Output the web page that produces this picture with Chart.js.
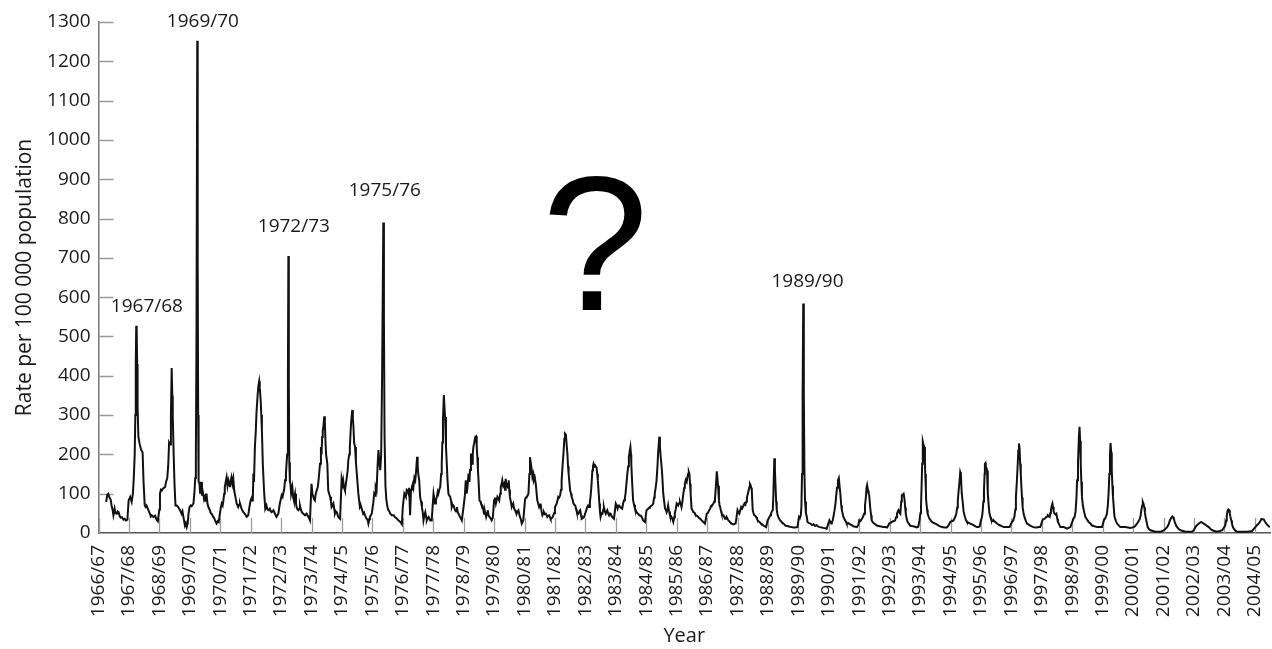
<!DOCTYPE html>
<html>
<head>
<meta charset="utf-8">
<script src="https://cdn.jsdelivr.net/npm/chart.js@4.4.1/dist/chart.umd.min.js"></script>
<style>
  html, body { margin: 0; padding: 0; background: #ffffff; }
  #wrap { width: 1272px; height: 649px; }
</style>
</head>
<body>
<div id="wrap"><canvas id="chart" width="1272" height="649"></canvas></div>
<script>
// Season labels for the x axis (one per winter season)
const seasonLabels = [
  '1966/67','1967/68','1968/69','1969/70','1970/71','1971/72','1972/73','1973/74',
  '1974/75','1975/76','1976/77','1977/78','1978/79','1979/80','1980/81','1981/82',
  '1982/83','1983/84','1984/85','1985/86','1986/87','1987/88','1988/89','1989/90',
  '1990/91','1991/92','1992/93','1993/94','1994/95','1995/96','1996/97','1997/98',
  '1998/99','1999/00','2000/01','2001/02','2002/03','2003/04','2004/05'
];

// Weekly rate per 100 000 population: [years since start of 1966/67 season, rate]
const rates1960s = [
  [0.25,79],[0.29,98],[0.32,100],[0.36,90],[0.40,85],[0.43,70],[0.46,60],[0.49,45],[0.53,62],[0.56,50],
  [0.60,49],[0.63,55],[0.66,53],[0.70,42],[0.73,39],[0.77,40],[0.82,34],[0.86,36],[0.90,32],[0.95,34],
  [0.99,83],[1.04,92],[1.09,79],[1.13,100],[1.16,140],[1.19,200],[1.21,300],[1.225,430],[1.24,527],[1.255,515],
  [1.27,430],[1.285,320],[1.31,245],[1.35,228],[1.40,212],[1.45,205],[1.48,130],[1.52,70],[1.55,66],[1.58,70],
  [1.64,58],[1.69,49],[1.72,42],[1.75,45],[1.80,41],[1.86,44],[1.91,34],[1.95,30],
  [2.0,60],[2.02,100],[2.05,110],[2.08,108],[2.11,112],[2.15,115],[2.19,117],[2.22,130],[2.26,140],[2.29,170],
  [2.32,230],[2.35,225],[2.38,300],[2.405,420],[2.425,350],[2.44,300],[2.47,200],[2.50,120],[2.53,70],[2.57,70],
  [2.62,66],[2.68,58],[2.73,49],[2.76,55],[2.79,41],[2.84,19],[2.87,25],[2.90,15],[2.93,24],[2.96,50],
  [2.99,66],[3.03,70],[3.06,68],[3.09,72],[3.12,75],[3.15,100],[3.18,140],[3.20,200],[3.22,500],[3.245,1252],
  [3.26,700],[3.275,300],[3.29,130],[3.32,125],[3.34,100],[3.37,130],[3.40,95],[3.42,108],[3.44,100],[3.47,85],
  [3.50,92],[3.53,80],[3.55,100],[3.58,75],[3.61,66],[3.66,58],[3.69,50],[3.72,49],[3.77,41],[3.80,38],
  [3.83,32],[3.88,24],[3.92,30],[3.95,28]
];

const rates1970s = [
  [3.99,49],[4.02,65],[4.05,75],[4.08,70],[4.10,80],[4.13,100],[4.15,117],[4.18,130],[4.21,142],[4.24,120],
  [4.27,134],[4.30,125],[4.32,117],[4.35,135],[4.37,142],[4.40,125],[4.43,138],[4.46,108],[4.50,92],[4.54,75],
  [4.59,66],[4.62,72],[4.65,75],[4.70,62],[4.76,53],[4.81,49],[4.84,45],[4.87,41],[4.92,45],[4.96,66],
  [5.0,83],[5.05,92],[5.07,80],[5.09,151],[5.11,130],[5.14,219],[5.17,260],[5.19,303],[5.22,340],[5.25,372],
  [5.28,386],[5.30,370],[5.33,337],[5.35,300],[5.37,261],[5.40,176],[5.44,108],[5.48,62],[5.52,70],[5.55,60],
  [5.58,58],[5.63,62],[5.66,55],[5.69,53],[5.75,58],[5.80,49],[5.85,41],[5.91,49],[5.96,75],
  [6.02,96],[6.05,92],[6.07,100],[6.10,110],[6.13,134],[6.16,150],[6.18,176],[6.20,200],[6.225,400],[6.24,705],
  [6.255,380],[6.27,180],[6.29,130],[6.31,125],[6.33,100],[6.37,117],[6.40,90],[6.42,83],[6.46,100],[6.49,75],
  [6.51,66],[6.54,60],[6.57,58],[6.60,62],[6.62,70],[6.65,60],[6.68,53],[6.73,49],[6.79,45],[6.84,49],
  [6.90,41],[6.95,32],
  [7.0,125],[7.03,100],[7.06,92],[7.09,85],[7.11,83],[7.14,100],[7.17,108],[7.20,115],[7.22,125],[7.25,150],
  [7.28,176],[7.31,219],[7.33,200],[7.35,244],[7.37,260],[7.39,270],[7.42,297],[7.44,280],[7.46,230],[7.48,200],
  [7.52,176],[7.55,108],[7.58,100],[7.61,92],[7.64,80],[7.66,66],[7.69,70],[7.72,75],[7.75,60],[7.77,49],
  [7.80,55],[7.83,53],[7.88,41],[7.94,36],
  [7.99,138],[8.02,125],[8.04,134],[8.07,115],[8.10,108],[8.13,125],[8.16,142],[8.19,160],[8.21,185],[8.24,200],
  [8.26,219],[8.28,250],[8.30,280],[8.34,313],[8.36,290],[8.38,269],[8.40,230],[8.43,219],[8.46,180],[8.48,159],
  [8.51,130],[8.54,100],[8.57,80],[8.59,66],[8.62,70],[8.65,62],[8.70,49],[8.73,52],[8.76,45],[8.81,36],
  [8.84,35],[8.87,24],[8.90,35],[8.92,41],[8.98,49],
  [9.03,76],[9.06,100],[9.09,95],[9.11,117],[9.14,110],[9.17,168],[9.20,211],[9.23,180],[9.26,160],[9.29,200],
  [9.32,400],[9.36,790],[9.38,550],[9.40,250],[9.43,120],[9.46,84],[9.50,65],[9.53,58],[9.56,55],[9.59,49],
  [9.64,45],[9.70,45],[9.75,40],[9.81,36],[9.86,32],[9.92,28],[9.97,22],
  [10.0,66],[10.02,80],[10.05,100],[10.08,95],[10.10,92],[10.13,110],[10.16,108],[10.19,100],[10.21,115],[10.24,45],
  [10.27,110],[10.30,117],[10.33,125],[10.35,117],[10.38,140],[10.41,134],[10.44,160],[10.47,194],[10.49,170],[10.51,150],
  [10.54,134],[10.57,92],[10.60,80],[10.63,66],[10.66,50],[10.68,32],[10.71,45],[10.74,53],[10.77,40],[10.79,32],
  [10.82,38],[10.85,41],[10.90,32],[10.95,32],
  [11.01,100],[11.04,85],[11.06,75],[11.09,85],[11.12,92],[11.15,105],[11.17,100],[11.20,110],[11.23,117],[11.26,150],
  [11.28,176],[11.30,230],[11.32,286],[11.35,351],[11.37,320],[11.39,295],[11.42,219],[11.45,170],[11.47,134],[11.50,100],
  [11.53,95],[11.56,92],[11.59,80],[11.61,66],[11.64,72],[11.67,70],[11.70,62],[11.72,58],[11.75,55],[11.78,66],
  [11.80,55],[11.83,49],[11.88,41],[11.94,32],
  [12.01,75],[12.04,95],[12.07,134],[12.10,100],[12.13,120],[12.16,151],[12.19,130],[12.21,160],[12.24,202],[12.26,180],
  [12.28,176],[12.30,200],[12.32,219],[12.35,230],[12.38,244],[12.41,246],[12.43,220],[12.45,193],[12.47,160],[12.49,134],
  [12.52,83],[12.55,80],[12.57,75],[12.60,72],[12.63,66],[12.67,49],[12.70,55],[12.74,41],[12.77,50],[12.79,58],
  [12.82,45],[12.85,41],[12.88,38],[12.92,32],[12.96,40],
  [13.0,83],[13.03,90],[13.06,75],[13.09,85],[13.11,92],[13.14,88],[13.17,83],[13.20,100],[13.22,117],[13.25,125],
  [13.27,134],[13.30,120],[13.33,125],[13.36,110],[13.38,138],[13.41,120],[13.44,117],[13.46,125],[13.48,134],[13.50,110],
  [13.52,92],[13.55,80],[13.58,66],[13.61,72],[13.63,75],[13.66,62],[13.69,58],[13.72,52],[13.74,49],[13.77,55],
  [13.80,58],[13.85,41],[13.88,35],[13.91,24],[13.96,32]
];

const rates1980s = [
  [14.02,87],[14.05,90],[14.07,92],[14.10,95],[14.13,100],[14.16,150],[14.18,193],[14.21,176],[14.24,160],[14.26,142],
  [14.29,150],[14.31,134],[14.34,140],[14.37,125],[14.40,100],[14.42,83],[14.45,75],[14.48,66],[14.51,72],[14.53,75],
  [14.56,55],[14.59,45],[14.62,50],[14.64,53],[14.67,48],[14.70,49],[14.73,45],[14.75,41],[14.78,44],[14.81,45],
  [14.84,40],[14.86,36],[14.90,38],[14.93,41],[14.97,50],
  [15.0,66],[15.03,70],[15.06,75],[15.09,85],[15.11,92],[15.14,90],[15.17,96],[15.20,110],[15.22,134],[15.25,170],
  [15.28,202],[15.31,240],[15.33,253],[15.36,250],[15.39,220],[15.41,202],[15.43,170],[15.45,151],[15.48,125],[15.50,108],
  [15.53,100],[15.55,92],[15.58,85],[15.61,75],[15.64,72],[15.67,70],[15.70,60],[15.72,53],[15.75,50],[15.77,49],
  [15.80,55],[15.83,58],[15.86,45],[15.88,36],[15.92,38],[15.96,41],
  [16.01,53],[16.04,60],[16.06,66],[16.09,70],[16.12,66],[16.15,80],[16.17,92],[16.20,120],[16.23,159],[16.25,170],
  [16.27,176],[16.30,170],[16.32,172],[16.35,168],[16.37,166],[16.39,150],[16.41,134],[16.44,100],[16.46,75],[16.48,55],
  [16.50,41],[16.53,50],[16.56,49],[16.59,60],[16.61,66],[16.64,55],[16.67,49],[16.70,55],[16.72,58],[16.75,50],
  [16.78,45],[16.81,50],[16.83,49],[16.86,44],[16.88,41],[16.94,36],
  [17.0,75],[17.03,70],[17.06,62],[17.09,70],[17.11,70],[17.14,66],[17.17,66],[17.21,62],[17.24,75],[17.27,83],
  [17.30,90],[17.32,100],[17.35,125],[17.38,151],[17.41,170],[17.43,193],[17.46,210],[17.48,219],[17.50,200],[17.51,176],
  [17.54,125],[17.57,83],[17.60,72],[17.63,62],[17.66,58],[17.68,53],[17.71,50],[17.74,49],[17.77,45],[17.79,45],
  [17.82,44],[17.85,41],[17.90,32],[17.96,28],
  [18.01,58],[18.04,60],[18.07,62],[18.10,64],[18.12,66],[18.15,68],[18.18,70],[18.21,72],[18.23,75],[18.26,90],
  [18.28,100],[18.31,115],[18.34,134],[18.37,170],[18.39,202],[18.43,245],[18.45,220],[18.48,190],[18.51,165],[18.53,142],
  [18.56,100],[18.59,80],[18.62,62],[18.65,58],[18.67,53],[18.70,60],[18.72,70],[18.75,55],[18.78,45],[18.81,44],
  [18.83,41],[18.86,35],[18.89,28],[18.92,40],[18.94,50],[18.97,60],
  [19.0,75],[19.03,72],[19.05,70],[19.08,76],[19.11,79],[19.14,72],[19.16,66],[19.19,80],[19.22,100],[19.25,115],
  [19.27,125],[19.30,135],[19.33,130],[19.36,145],[19.38,151],[19.40,155],[19.42,150],[19.44,125],[19.46,100],[19.49,62],
  [19.52,58],[19.55,53],[19.58,52],[19.60,49],[19.63,45],[19.66,44],[19.69,42],[19.71,41],[19.74,38],[19.77,36],
  [19.80,34],[19.82,32],[19.85,30],[19.88,28],[19.93,24],
  [19.99,49],[20.02,51],[20.04,53],[20.07,58],[20.10,62],[20.13,68],[20.15,70],[20.18,72],[20.21,75],[20.24,80],
  [20.26,87],[20.29,120],[20.32,157],[20.34,140],[20.36,120],[20.39,83],[20.41,70],[20.43,66],[20.46,55],[20.48,49],
  [20.51,45],[20.54,45],[20.57,40],[20.59,36],[20.62,38],[20.64,41],[20.67,36],[20.70,32],[20.73,30],[20.75,28],
  [20.78,26],[20.81,24],[20.86,22],[20.94,24],
  [21.0,58],[21.03,52],[21.06,49],[21.09,58],[21.12,66],[21.15,62],[21.17,62],[21.20,70],[21.23,75],[21.26,72],
  [21.29,80],[21.31,90],[21.34,100],[21.37,110],[21.39,117],[21.41,125],[21.43,122],[21.45,115],[21.47,108],[21.50,58],
  [21.52,52],[21.55,45],[21.58,44],[21.61,41],[21.64,36],[21.66,32],[21.69,30],[21.72,28],[21.75,26],[21.77,24],
  [21.81,22],[21.85,19],[21.90,17],[21.94,15],
  [21.99,32],[22.02,36],[22.05,41],[22.08,45],[22.10,49],[22.13,55],[22.16,58],[22.18,100],[22.21,190],[22.23,160],
  [22.25,120],[22.27,80],[22.29,58],[22.32,45],[22.34,41],[22.37,36],[22.40,32],[22.43,30],[22.45,28],[22.48,26],
  [22.51,24],[22.54,22],[22.57,19],[22.62,18],[22.67,17],[22.72,16],[22.78,15],[22.84,14],[22.89,14],[22.97,15],
  [23.02,41],[23.05,38],[23.08,45],[23.10,66],[23.12,150],[23.14,350],[23.16,584],[23.18,350],[23.20,150],[23.22,80],
  [23.25,50],[23.28,40],[23.30,28],[23.35,25],[23.40,24],[23.45,20],[23.50,22],[23.55,18],[23.60,20],[23.66,16],
  [23.71,15],[23.77,14],[23.82,13],[23.88,12],[23.93,11]
];

const rates1990s = [
  [24.02,32],[24.05,28],[24.08,24],[24.10,28],[24.13,32],[24.16,45],[24.19,58],[24.22,75],[24.24,92],[24.27,115],
  [24.30,134],[24.33,140],[24.36,115],[24.38,100],[24.41,70],[24.43,58],[24.46,48],[24.48,41],[24.51,36],[24.54,32],
  [24.57,28],[24.59,24],[24.65,25],[24.70,22],[24.76,20],[24.81,17],[24.87,16],[24.92,15],[24.97,20],
  [25.0,32],[25.04,30],[25.09,36],[25.13,42],[25.16,49],[25.19,70],[25.22,92],[25.24,115],[25.26,122],[25.29,108],
  [25.31,100],[25.33,95],[25.36,66],[25.39,45],[25.41,32],[25.45,27],[25.49,24],[25.53,22],[25.58,19],[25.64,18],
  [25.69,17],[25.75,16],[25.80,15],[25.86,15],[25.91,14],[25.95,18],
  [25.98,24],[26.02,26],[26.07,28],[26.12,30],[26.18,32],[26.21,40],[26.24,49],[26.27,55],[26.29,58],[26.32,52],
  [26.35,49],[26.38,80],[26.40,96],[26.43,98],[26.46,100],[26.49,85],[26.51,65],[26.53,49],[26.56,36],[26.59,28],
  [26.63,24],[26.67,19],[26.72,18],[26.78,17],[26.83,16],[26.89,14],[26.94,16],
  [26.98,32],[27.01,50],[27.03,66],[27.05,120],[27.07,176],[27.09,232],[27.11,225],[27.14,219],[27.16,180],[27.17,150],
  [27.19,110],[27.20,83],[27.23,60],[27.25,49],[27.28,42],[27.31,36],[27.35,32],[27.39,28],[27.44,26],[27.50,24],
  [27.55,22],[27.61,19],[27.66,17],[27.72,15],[27.80,14],[27.88,14],[27.94,20],
  [27.99,28],[28.04,30],[28.10,32],[28.15,40],[28.19,49],[28.22,65],[28.24,83],[28.27,110],[28.30,134],[28.32,155],
  [28.34,150],[28.37,100],[28.40,80],[28.43,55],[28.46,45],[28.48,40],[28.51,32],[28.54,28],[28.60,26],[28.65,24],
  [28.71,22],[28.76,20],[28.82,17],[28.87,15],[28.92,15],[28.96,17],
  [29.0,32],[29.03,40],[29.05,49],[29.08,80],[29.10,108],[29.12,150],[29.13,176],[29.15,178],[29.16,170],[29.18,165],
  [29.20,159],[29.22,120],[29.23,100],[29.26,66],[29.28,50],[29.31,41],[29.33,36],[29.36,32],[29.40,30],[29.42,32],
  [29.47,28],[29.53,24],[29.58,21],[29.64,19],[29.70,17],[29.75,15],[29.81,15],[29.86,15],[29.94,15],
  [30.02,28],[30.06,32],[30.10,41],[30.13,60],[30.15,92],[30.18,130],[30.21,176],[30.23,210],[30.25,228],[30.27,215],
  [30.29,176],[30.31,150],[30.33,117],[30.35,90],[30.37,66],[30.40,50],[30.43,41],[30.47,32],[30.51,24],[30.56,22],
  [30.62,19],[30.67,17],[30.73,15],[30.79,14],[30.84,14],[30.90,15],[30.95,15],
  [31.02,32],[31.05,35],[31.08,36],[31.12,38],[31.15,41],[31.18,42],[31.20,45],[31.23,43],[31.26,41],[31.28,50],
  [31.30,58],[31.33,70],[31.35,75],[31.37,66],[31.38,62],[31.40,55],[31.42,49],[31.45,47],[31.48,49],[31.51,36],
  [31.53,28],[31.57,22],[31.61,15],[31.66,15],[31.72,15],[31.78,13],[31.83,11],[31.88,13],[31.94,15],
  [32.02,32],[32.05,38],[32.08,41],[32.11,55],[32.14,90],[32.16,134],[32.19,180],[32.22,245],[32.24,270],[32.26,235],
  [32.28,176],[32.30,130],[32.32,92],[32.35,70],[32.38,58],[32.41,48],[32.43,41],[32.48,35],[32.54,28],[32.60,24],
  [32.65,19],[32.73,17],[32.82,15],[32.90,15],[32.98,15],
  [33.04,32],[33.09,38],[33.14,49],[33.17,70],[33.20,108],[33.22,150],[33.24,200],[33.26,229],[33.28,205],[33.30,160],
  [33.32,120],[33.34,92],[33.37,60],[33.39,41],[33.43,32],[33.47,24],[33.52,20],[33.58,15],[33.66,15],[33.75,15],
  [33.83,14],[33.91,13]
];

const rates2000s = [
  [34.02,15],[34.07,18],[34.13,24],[34.18,30],[34.22,36],[34.25,45],[34.27,58],[34.30,70],[34.32,79],[34.34,75],
  [34.37,65],[34.39,52],[34.41,41],[34.44,30],[34.48,15],[34.52,10],[34.57,7],[34.65,5],[34.73,3],[34.82,3],
  [34.90,3],[34.96,5],
  [35.01,7],[35.06,10],[35.12,15],[35.17,22],[35.21,32],[35.25,38],[35.29,42],[35.32,40],[35.34,36],[35.37,28],
  [35.39,24],[35.42,18],[35.45,15],[35.50,10],[35.56,7],[35.64,5],[35.72,3],[35.83,3],[35.94,3],
  [36.0,8],[36.05,15],[36.10,20],[36.16,24],[36.20,26],[36.24,28],[36.28,26],[36.32,24],[36.36,22],[36.41,19],
  [36.45,17],[36.49,15],[36.55,10],[36.60,7],[36.68,5],[36.76,3],[36.85,5],[36.93,7],
  [37.0,15],[37.03,20],[37.06,32],[37.08,45],[37.11,58],[37.13,60],[37.16,58],[37.18,50],[37.20,41],[37.23,32],
  [37.25,24],[37.28,15],[37.31,11],[37.36,6],[37.42,3],[37.50,3],[37.58,3],[37.66,3],[37.74,3],[37.83,4],
  [37.91,5],[37.96,10],
  [38.02,15],[38.07,20],[38.13,24],[38.18,30],[38.22,36],[38.26,35],[38.30,34],[38.34,28],[38.38,24],[38.42,20],
  [38.46,17],[38.50,15]
];

const weeklyRates = [...rates1960s, ...rates1970s, ...rates1980s, ...rates1990s, ...rates2000s];

// Names of the major epidemic seasons written above their peaks
const epidemicNames = ['1967/68', '1969/70', '1972/73', '1975/76', '1989/90'];
// Where each name is placed, in axis units (season years, rate)
const epidemicNameAnchors = [[1.59, 575], [3.43, 1300], [6.42, 780], [9.41, 872], [23.30, 640]];

const FONT = "'Open Sans', 'DejaVu Sans', sans-serif";

// Inward-pointing tick marks on both axes plus the peak names and the question mark
const decorations = {
  id: 'decorations',
  beforeDatasetsDraw(chart) {
    const { ctx, chartArea, scales: { x, y } } = chart;
    ctx.save();
    ctx.strokeStyle = '#9a9a9a';
    ctx.lineWidth = 1.3;
    ctx.beginPath();
    x.ticks.forEach(t => {
      const px = Math.round(x.getPixelForValue(t.value)) + 0.5;
      ctx.moveTo(px, chartArea.bottom);
      ctx.lineTo(px, chartArea.bottom - 15);
    });
    y.ticks.forEach(t => {
      if (t.value === 0) return;
      const py = Math.round(y.getPixelForValue(t.value)) + 0.5;
      ctx.moveTo(chartArea.left, py);
      ctx.lineTo(chartArea.left + 15, py);
    });
    ctx.stroke();
    ctx.restore();
  },
  afterDraw(chart) {
    const { ctx, scales: { x, y } } = chart;
    ctx.save();
    ctx.fillStyle = '#1a1a1a';
    ctx.textAlign = 'center';
    ctx.textBaseline = 'middle';
    ctx.font = `19px ${FONT}`;
    epidemicNames.forEach((name, i) => {
      const [ax, ay] = epidemicNameAnchors[i];
      ctx.fillText(name, x.getPixelForValue(ax), y.getPixelForValue(ay));
    });
    ctx.fillStyle = '#000000';
    ctx.textBaseline = 'alphabetic';
    ctx.font = "192px 'Liberation Sans', Arial, sans-serif";
    ctx.fillText('?', x.getPixelForValue(16.32), y.getPixelForValue(567));
    ctx.restore();
  }
};

new Chart(document.getElementById('chart'), {
  type: 'line',
  data: {
    datasets: [{
      data: weeklyRates,
      borderColor: '#111111',
      borderWidth: 2,
      pointRadius: 0,
      tension: 0,
      fill: false
    }]
  },
  options: {
    responsive: false,
    animation: false,
    devicePixelRatio: 1,
    layout: { padding: { top: 22, right: 2, left: 0, bottom: 0 } },
    plugins: { legend: { display: false }, tooltip: { enabled: false } },
    scales: {
      x: {
        type: 'linear',
        min: 0,
        max: 38.5,
        afterBuildTicks: scale => {
          scale.ticks = seasonLabels.map((_, i) => ({ value: i }));
        },
        afterFit: scale => {
          scale.height = 116;
          scale.paddingLeft = 0;
          scale.paddingRight = 0;
        },
        grid: { display: false, drawTicks: false },
        border: { display: true, color: '#555555', width: 1.5 },
        ticks: {
          autoSkip: false,
          minRotation: 90,
          maxRotation: 90,
          padding: 12,
          color: '#1a1a1a',
          font: { family: FONT, size: 19 },
          callback: value => seasonLabels[value]
        },
        title: {
          display: true,
          text: 'Year',
          color: '#1a1a1a',
          font: { family: FONT, size: 20 },
          padding: { top: 0, bottom: 1 }
        }
      },
      y: {
        min: 0,
        max: 1300,
        afterFit: scale => { scale.width = 98.5; },
        grid: { display: false, drawTicks: false },
        border: { display: true, color: '#777777', width: 1.5 },
        ticks: {
          stepSize: 100,
          padding: 8,
          color: '#1a1a1a',
          font: { family: FONT, size: 19 },
          callback: value => String(value)
        },
        title: {
          display: true,
          text: 'Rate per 100 000 population',
          color: '#1a1a1a',
          font: { family: FONT, size: 21 },
          padding: { top: 12, bottom: 0 }
        }
      }
    }
  },
  plugins: [decorations]
});
</script>
</body>
</html>
